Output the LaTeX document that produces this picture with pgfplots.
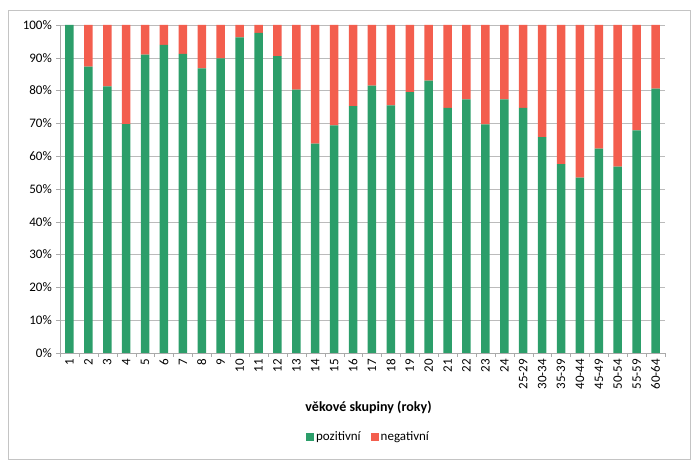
\documentclass[border=0pt]{standalone}
\usepackage{pgfplots}
\pgfplotsset{compat=1.18}
\usepackage{pgfplotstable}
\usepackage{fontspec}
\setmainfont{Carlito}

\definecolor{poz}{RGB}{44,158,106}
\definecolor{neg}{RGB}{243,94,78}
\definecolor{gridc}{RGB}{170,170,170}

% idx  pozitivni  negativni
\pgfplotstableread{
idx poz neg
0  100.0  0.0
1  87.3  12.7
2  81.3  18.7
3  69.8  30.2
4  91.0   9.0
5  93.9   6.1
6  91.2   8.8
7  86.8  13.2
8  89.8  10.2
9  96.2   3.8
10 97.6   2.4
11 90.5   9.5
12 80.3  19.7
13 63.8  36.2
14 69.4  30.6
15 75.3  24.7
16 81.5  18.5
17 75.5  24.5
18 79.5  20.5
19 83.0  17.0
20 74.7  25.3
21 77.3  22.7
22 69.7  30.3
23 77.3  22.7
24 74.7  25.3
25 65.8  34.2
26 57.6  42.4
27 53.5  46.5
28 62.3  37.7
29 56.8  43.2
30 67.9  32.1
31 80.6  19.4
}\data

\begin{document}
\begin{tikzpicture}[x=1bp,y=1bp]
  \path (0,0) rectangle (698,473);
  \draw[gridc!70] (8,14) rectangle (690,463);
  \begin{axis}[
    at={(60bp,120bp)}, anchor=south west,
    scale only axis,
    width=605bp, height=328bp,
    font=\fontsize{13bp}{15bp}\selectfont,
    ybar stacked,
    bar width=8.5bp,
    ymin=0, ymax=100,
    xmin=-0.5, xmax=31.5,
    axis lines*=left,
    axis line style={gridc},
    ytick={0,10,...,100},
    yticklabels={0\%,10\%,20\%,30\%,40\%,50\%,60\%,70\%,80\%,90\%,100\%},
    ymajorgrids,
    grid style={gridc!80},
    xtick={0,...,31},
    xticklabels={1,2,3,4,5,6,7,8,9,10,11,12,13,14,15,16,17,18,19,20,21,22,23,24,25-29,30-34,35-39,40-44,45-49,50-54,55-59,60-64},
    major x tick style={draw=none},
    minor xtick={-0.5,0.5,...,31.5},
    minor tick length=4bp,
    major tick length=4bp,
    tick align=outside,
    tick style={gridc},
    xticklabel style={rotate=90, anchor=east, inner sep=2pt},
    yticklabel style={inner sep=4pt},
    xlabel={\textbf{věkové skupiny (roky)}},
    xlabel style={at={(axis description cs:0.51,-0.165)}, anchor=center,
      font=\fontsize{14bp}{16bp}\selectfont},
    legend style={at={(axis description cs:0.51,-0.256)}, anchor=center,
      draw=none, legend columns=-1, fill=none,
      /tikz/every even column/.append style={column sep=8bp}},
    legend image code/.code={\fill[#1] (0bp,-4bp) rectangle (8bp,4bp);},
  ]
    \addplot[fill=poz, draw=none] table[x=idx, y=poz] {\data};
    \addlegendentry{pozitivní}
    \addplot[fill=neg, draw=none] table[x=idx, y=neg] {\data};
    \addlegendentry{negativní}
  \end{axis}
\end{tikzpicture}
\end{document}
